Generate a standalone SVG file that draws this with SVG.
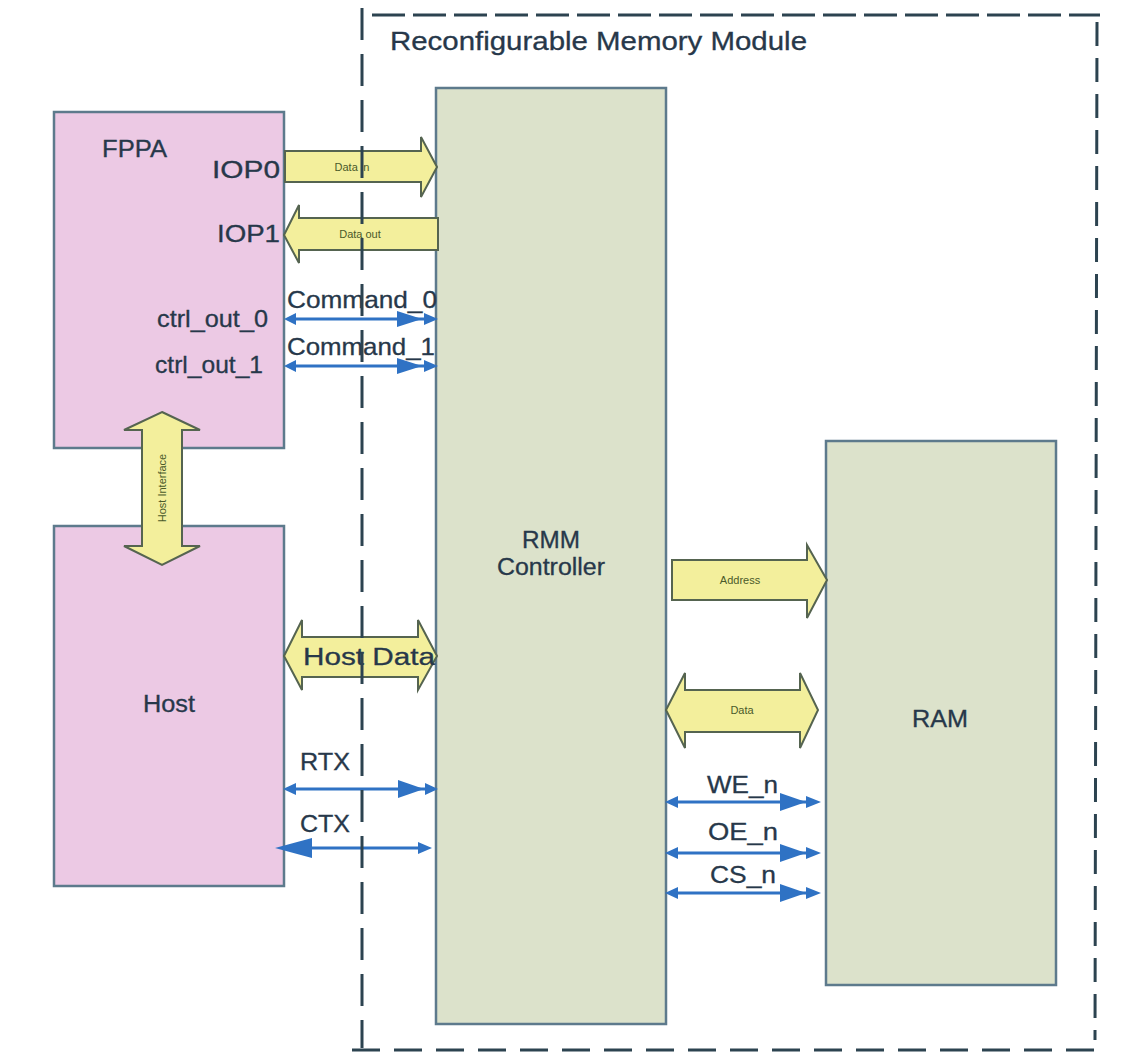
<svg xmlns="http://www.w3.org/2000/svg" width="1135" height="1053" viewBox="0 0 1135 1053">
<defs>
<style>
.box{stroke:#5d7a8c;stroke-width:2.5}
.pink{fill:#ecc9e4}
.green{fill:#dce2cb}
.lbl{font-family:"Liberation Sans",Arial,sans-serif;fill:#27384a;stroke:#27384a;stroke-width:0.3}
.big{font-size:23px}
.sig-lbl{font-size:24px}
.small{font-size:11px;fill:#4a5a2a;stroke:none}
.yarrow{fill:#f3ef9c;stroke:#556450;stroke-width:2;stroke-linejoin:miter}
.dash{fill:none;stroke:#2c4350;stroke-width:3}
.sig{stroke:#2f72c4;stroke-width:3;fill:none}
.head{fill:#2f72c4}
</style>
</defs>
<rect width="1135" height="1053" fill="#ffffff"/>

<g id="fppa">
<rect class="box pink" x="54" y="112" width="230" height="336"/>
<text class="lbl big" x="102" y="157" textLength="65" lengthAdjust="spacingAndGlyphs">FPPA</text>
<text class="lbl big" x="212" y="178" textLength="68" lengthAdjust="spacingAndGlyphs">IOP0</text>
<text class="lbl big" x="217" y="242" textLength="63" lengthAdjust="spacingAndGlyphs">IOP1</text>
<text class="lbl sig-lbl" x="157" y="327" textLength="111" lengthAdjust="spacingAndGlyphs">ctrl_out_0</text>
<text class="lbl sig-lbl" x="155" y="373" textLength="108" lengthAdjust="spacingAndGlyphs">ctrl_out_1</text>
</g>

<g id="host">
<rect class="box pink" x="54" y="526" width="230" height="360"/>
<text class="lbl big" x="143" y="712" textLength="52" lengthAdjust="spacingAndGlyphs">Host</text>
</g>

<g id="rmm-controller">
<rect class="box green" x="436" y="88" width="230" height="936"/>
<text class="lbl big" x="522" y="548" textLength="58" lengthAdjust="spacingAndGlyphs">RMM</text>
<text class="lbl big" x="497" y="575" textLength="108" lengthAdjust="spacingAndGlyphs">Controller</text>
</g>

<g id="ram">
<rect class="box green" x="826" y="441" width="230" height="544"/>
<text class="lbl big" x="912" y="727" textLength="56" lengthAdjust="spacingAndGlyphs">RAM</text>
</g>

<g id="connectors">
<!-- Data in -->
<polygon class="yarrow" points="285,151 421,151 421,137 437,167 421,197 421,182 285,182"/>
<text class="lbl small" x="352" y="171" text-anchor="middle">Data in</text>
<!-- Data out -->
<polygon class="yarrow" points="438,218 299,218 299,205 284,235 299,263 299,250 438,250"/>
<text class="lbl small" x="360" y="238" text-anchor="middle">Data out</text>
<!-- Host interface -->
<polygon class="yarrow" points="162,412 200,430 182,430 182,546 200,546 162,565 124,546 142,546 142,430 124,430"/>
<text class="lbl small" transform="translate(166,488) rotate(-90)" text-anchor="middle">Host Interface</text>
<!-- Host Data -->
<polygon class="yarrow" points="284,656 302,620 302,637 418,637 418,620 437,656 418,690 418,677 302,677 302,690"/>
<text class="lbl" font-size="23" fill="#3a4a20" stroke="#3a4a20" x="303" y="665" textLength="132" lengthAdjust="spacingAndGlyphs">Host Data</text>
<!-- Address -->
<polygon class="yarrow" points="672,560 807,560 807,545 827,580 807,618 807,600 672,600"/>
<text class="lbl small" x="740" y="584" text-anchor="middle">Address</text>
<!-- RAM Data -->
<polygon class="yarrow" points="666,710 685,673 685,690 800,690 800,673 818,710 800,748 800,732 685,732 685,748"/>
<text class="lbl small" x="742" y="714" text-anchor="middle">Data</text>

<!-- Command_0 -->
<text class="lbl sig-lbl" x="287" y="308" textLength="150" lengthAdjust="spacingAndGlyphs">Command_0</text>
<line class="sig" x1="290" y1="319" x2="428" y2="319"/>
<polygon class="head" points="284,319 296,313 296,325"/>
<polygon class="head" points="397,311 422,319 397,327"/>
<polygon class="head" points="424,313 438,319 424,325"/>
<!-- Command_1 -->
<text class="lbl sig-lbl" x="287" y="355" textLength="148" lengthAdjust="spacingAndGlyphs">Command_1</text>
<line class="sig" x1="290" y1="366" x2="428" y2="366"/>
<polygon class="head" points="284,366 296,360 296,372"/>
<polygon class="head" points="397,358 422,366 397,374"/>
<polygon class="head" points="424,360 438,366 424,372"/>
<!-- RTX -->
<text class="lbl sig-lbl" x="300" y="770" textLength="50" lengthAdjust="spacingAndGlyphs">RTX</text>
<line class="sig" x1="290" y1="789" x2="428" y2="789"/>
<polygon class="head" points="283,789 296,783 296,795"/>
<polygon class="head" points="398,780 424,789 398,798"/>
<polygon class="head" points="425,783 438,789 425,795"/>
<!-- CTX -->
<text class="lbl sig-lbl" x="300" y="832" textLength="50" lengthAdjust="spacingAndGlyphs">CTX</text>
<line class="sig" x1="300" y1="848" x2="424" y2="848"/>
<polygon class="head" points="275,848 312,838 312,858"/>
<polygon class="head" points="432,848 418,842 418,854"/>
<!-- WE_n -->
<text class="lbl sig-lbl" x="707" y="793" textLength="71" lengthAdjust="spacingAndGlyphs">WE_n</text>
<line class="sig" x1="672" y1="802" x2="812" y2="802"/>
<polygon class="head" points="665,802 678,796 678,808"/>
<polygon class="head" points="780,793 806,802 780,811"/>
<polygon class="head" points="806,796 821,802 806,808"/>
<!-- OE_n -->
<text class="lbl sig-lbl" x="708" y="840" textLength="70" lengthAdjust="spacingAndGlyphs">OE_n</text>
<line class="sig" x1="672" y1="853" x2="812" y2="853"/>
<polygon class="head" points="665,853 678,847 678,859"/>
<polygon class="head" points="780,844 806,853 780,862"/>
<polygon class="head" points="806,847 821,853 806,859"/>
<!-- CS_n -->
<text class="lbl sig-lbl" x="710" y="883" textLength="66" lengthAdjust="spacingAndGlyphs">CS_n</text>
<line class="sig" x1="672" y1="893" x2="812" y2="893"/>
<polygon class="head" points="665,893 678,887 678,899"/>
<polygon class="head" points="780,884 806,893 780,902"/>
<polygon class="head" points="806,887 821,893 806,899"/>
</g>

<g id="module-border">
<line class="dash" x1="362" y1="8" x2="362" y2="1048" stroke-dasharray="32 14" stroke-width="2.5"/>
<line class="dash" x1="372" y1="15" x2="1100" y2="15" stroke-dasharray="33 8"/>
<line class="dash" x1="1097" y1="22" x2="1095" y2="1040" stroke-dasharray="24 12"/>
<line class="dash" x1="352" y1="1050" x2="1100" y2="1050" stroke-dasharray="28 14"/>
<text class="lbl" x="390" y="50" font-size="25" textLength="417" lengthAdjust="spacingAndGlyphs">Reconfigurable Memory Module</text>
</g>
</svg>
